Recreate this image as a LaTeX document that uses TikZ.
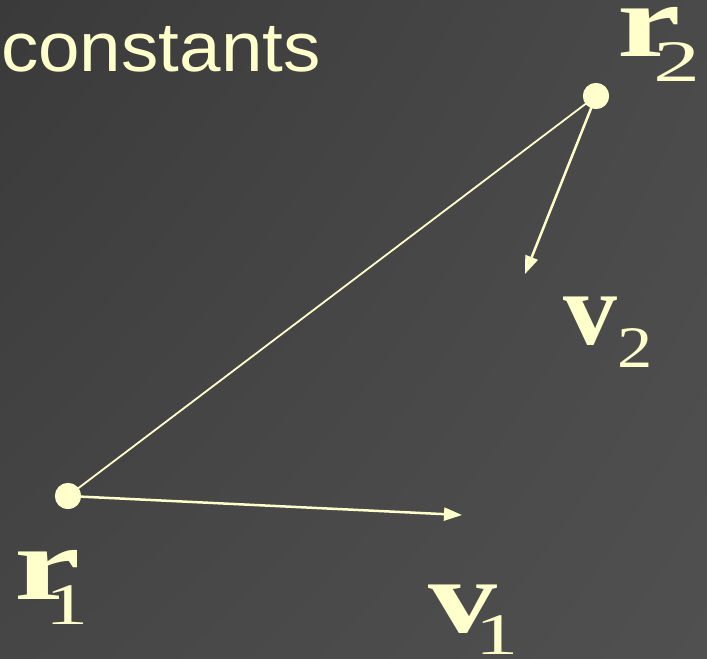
\documentclass[tikz,border=0pt]{standalone}
\usepackage{fontspec}
\setmainfont{Liberation Serif}
\newfontfamily\armfont{Liberation Sans}
\usetikzlibrary{arrows.meta,shadings}
\definecolor{txt}{RGB}{255,255,204}
\definecolor{bgA}{RGB}{58,58,58}
\definecolor{bgB}{RGB}{74,74,74}
\definecolor{bgC}{RGB}{70,70,70}
\definecolor{bgD}{RGB}{80,80,80}
\tikzset{
  lbl/.style={inner sep=0pt, outer sep=0pt, text=txt, anchor=center},
  dot/.style={circle, fill=txt, draw=none, minimum size=26bp, inner sep=0pt},
  arr/.style={draw=txt, line width=2.5bp, -{Triangle[length=18bp,width=13bp]}},
  conn/.style={draw=txt, line width=1.8bp}
}
\newcommand{\BigL}[2]{\scalebox{#1}[1]{\fontsize{104}{104}\selectfont\bfseries #2}}
\newcommand{\SubL}[2]{\scalebox{#1}[1]{\fontsize{59}{59}\selectfont #2}}
\begin{document}
\begin{tikzpicture}[x=1bp,y=-1bp]
\useasboundingbox (0,0) rectangle (707,659);
\shade[upper left=bgA, upper right=bgB, lower left=bgC, lower right=bgD] (0,0) rectangle (707,659);
% title
\node[inner sep=0pt, text=txt, anchor=base west] (title) at (1,72)
  {\scalebox{1.07}[1]{\fontsize{70}{70}\selectfont\armfont constants}};
% points
\node[dot] (r1dot) at (68,496) {};
\node[dot] (r2dot) at (596,96) {};
\coordinate (v1tip) at (462,515);
\coordinate (v2tip) at (525,274);
\draw[conn] (r1dot.center) -- (r2dot.center);
\draw[arr] (r1dot.center) -- (v1tip);
\draw[arr] (r2dot.center) -- (v2tip);
\node[dot] at (r1dot) {};
\node[dot] at (r2dot) {};
% labels
\node[lbl] (r1) at (47.5,574.5) {\BigL{1.44}{r}};
\node[lbl] (r1s) at (67.5,605) {\SubL{1.47}{1}};
\node[lbl] (r2) at (649,31.5) {\BigL{1.38}{r}};
\node[lbl] (r2s) at (677,62) {\SubL{1.6}{2}};
\node[lbl] (v1) at (462.5,609) {\BigL{1.33}{v}};
\node[lbl] (v1s) at (497.5,635) {\SubL{1.47}{1}};
\node[lbl] (v2) at (590,321) {\BigL{1.04}{v}};
\node[lbl] (v2s) at (635,348.5) {\SubL{1.2}{2}};
\end{tikzpicture}
\end{document}
